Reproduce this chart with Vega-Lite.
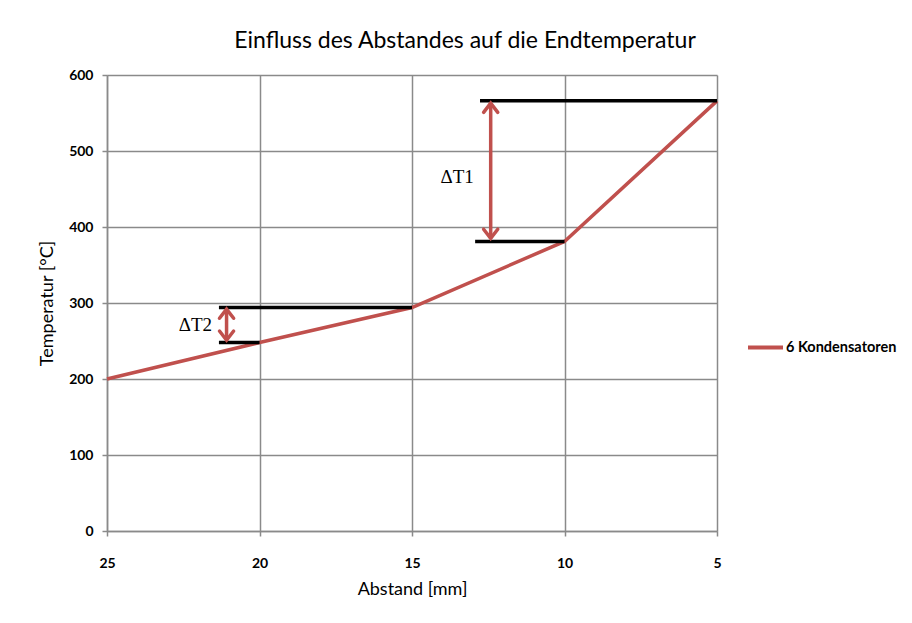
{
  "$schema": "https://vega.github.io/schema/vega-lite/v6.json",
  "width": 610,
  "height": 456,
  "autosize": "none",
  "padding": {"left": 107, "top": 75, "right": 195, "bottom": 92},
  "background": "white",
  "title": {"text": "Einfluss des Abstandes auf die Endtemperatur", "font": "Lato", "fontSize": 23, "fontWeight": "normal", "color": "#000000", "anchor": "middle", "dx": 53, "offset": 15},
  "datasets": {
    "curve": [
      {"abstand": 25, "temp": 200, "serie": "6 Kondensatoren"},
      {"abstand": 20, "temp": 248, "serie": "6 Kondensatoren"},
      {"abstand": 15, "temp": 294, "serie": "6 Kondensatoren"},
      {"abstand": 10, "temp": 381, "serie": "6 Kondensatoren"},
      {"abstand": 5, "temp": 566, "serie": "6 Kondensatoren"}
    ],
    "levels": [
      {"from": 12.77, "to": 5, "temp": 566},
      {"from": 12.93, "to": 10, "temp": 381},
      {"from": 21.33, "to": 15, "temp": 294},
      {"from": 21.33, "to": 20, "temp": 248}
    ],
    "arrows": [
      {"abstand": 12.42, "top": 563, "bottom": 385},
      {"abstand": 21.08, "top": 292, "bottom": 251}
    ],
    "labels": [
      {"abstand": 13.52, "temp": 466, "text": "ΔT1"},
      {"abstand": 22.1, "temp": 271, "text": "ΔT2"}
    ]
  },
  "encoding": {},
  "layer": [
    {
      "data": {"name": "curve"},
      "mark": {"type": "line", "strokeWidth": 3.5},
      "encoding": {
        "x": {"field": "abstand", "type": "quantitative", "scale": {"domain": [5, 25], "reverse": true, "nice": false, "zero": false},
          "axis": {"title": "Abstand [mm]", "values": [5, 10, 15, 20, 25], "grid": true, "gridColor": "#8a8a8a", "gridWidth": 1.5, "domainColor": "#8a8a8a", "domainWidth": 1.5, "tickColor": "#8a8a8a", "tickWidth": 1.5, "tickSize": 5, "labelPadding": 20, "labelFlush": false, "labelBound": false, "labelOverlap": false, "labelFont": "Lato", "labelFontSize": 14, "labelFontWeight": "bold", "labelColor": "#000000", "titleFont": "Lato", "titleFontSize": 18, "titleFontWeight": "normal", "titleColor": "#000000", "titlePadding": 10}},
        "y": {"field": "temp", "type": "quantitative", "scale": {"domain": [0, 600], "nice": false},
          "axis": {"title": "Temperatur [°C]", "values": [0, 100, 200, 300, 400, 500, 600], "grid": true, "gridColor": "#8a8a8a", "gridWidth": 1.5, "domainColor": "#8a8a8a", "domainWidth": 1.5, "tickColor": "#8a8a8a", "tickWidth": 1.5, "tickSize": 5, "labelPadding": 9, "labelFlush": false, "labelOverlap": false, "labelFont": "Lato", "labelFontSize": 14, "labelFontWeight": "bold", "labelColor": "#000000", "titleFont": "Lato", "titleFontSize": 18, "titleFontWeight": "normal", "titleColor": "#000000", "titlePadding": 12}},
        "color": {"field": "serie", "type": "nominal", "scale": {"range": ["#c0504d"]},
          "legend": {"title": null, "orient": "none", "legendX": 639, "legendY": 253, "symbolType": "stroke", "symbolSize": 1225, "symbolStrokeWidth": 4, "labelFont": "Lato", "labelFontSize": 14.5, "labelFontWeight": "bold", "labelColor": "#000000", "labelOffset": 1}}
      }
    },
    {
      "data": {"name": "levels"},
      "mark": {"type": "rule", "color": "#000000", "strokeWidth": 3.5},
      "encoding": {
        "x": {"field": "from", "type": "quantitative"},
        "x2": {"field": "to"},
        "y": {"field": "temp", "type": "quantitative"}
      }
    },
    {
      "data": {"name": "arrows"},
      "mark": {"type": "rule", "color": "#c0504d", "strokeWidth": 3.5},
      "encoding": {
        "x": {"field": "abstand", "type": "quantitative"},
        "y": {"field": "top", "type": "quantitative"},
        "y2": {"field": "bottom"}
      }
    },
    {
      "data": {"name": "arrows"},
      "mark": {"type": "point", "shape": "M-1,1.3L0,0L1,1.3", "filled": false, "stroke": "#c0504d", "strokeWidth": 3.5, "size": 200, "opacity": 1, "strokeCap": "round"},
      "encoding": {
        "x": {"field": "abstand", "type": "quantitative"},
        "y": {"field": "top", "type": "quantitative"}
      }
    },
    {
      "data": {"name": "arrows"},
      "mark": {"type": "point", "shape": "M-1,-1.3L0,0L1,-1.3", "filled": false, "stroke": "#c0504d", "strokeWidth": 3.5, "size": 200, "opacity": 1, "strokeCap": "round"},
      "encoding": {
        "x": {"field": "abstand", "type": "quantitative"},
        "y": {"field": "bottom", "type": "quantitative"}
      }
    },
    {
      "data": {"name": "labels"},
      "mark": {"type": "text", "font": "Liberation Serif", "fontSize": 19, "color": "#000000", "align": "center", "baseline": "middle"},
      "encoding": {
        "x": {"field": "abstand", "type": "quantitative"},
        "y": {"field": "temp", "type": "quantitative"},
        "text": {"field": "text"}
      }
    }
  ],
  "config": {"view": {"stroke": null}}
}
